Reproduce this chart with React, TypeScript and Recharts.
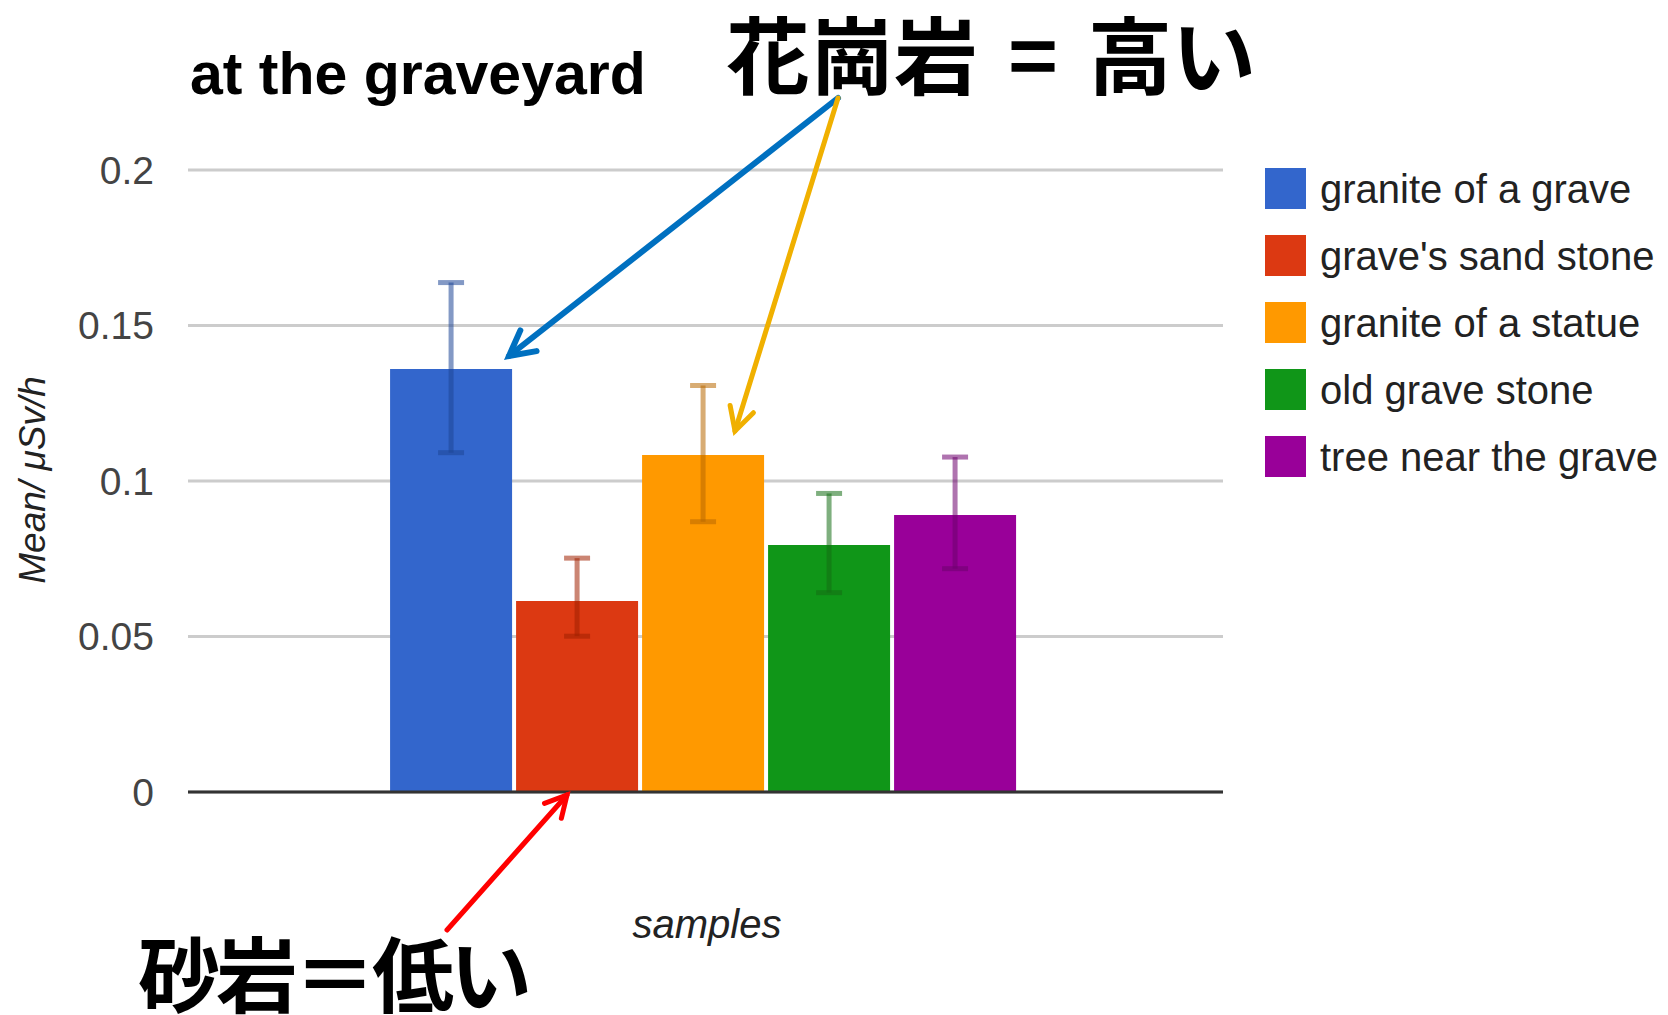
import { BarChart, Bar, XAxis, YAxis, CartesianGrid, ErrorBar, Legend, ReferenceLine } from "recharts";

const categories = ["samples"];
const seriesKeys = ["graniteGrave", "sandStone", "graniteStatue", "oldStone", "tree"];
const seriesNames = ["granite of a grave", "grave's sand stone", "granite of a statue", "old grave stone", "tree near the grave"];
const seriesColors = ["#3366cc", "#dc3912", "#ff9900", "#109618", "#990099"];
const errorColors = ["#1e4696", "#a02000", "#b86800", "#146e14", "#6e006e"];
const meanValues = [0.136, 0.0614, 0.1084, 0.0794, 0.0891];
// [below, above] offsets of the error bars
const errorValues = [
  [0.0269, 0.0278],
  [0.0113, 0.0138],
  [0.0215, 0.0223],
  [0.0153, 0.0166],
  [0.0173, 0.0186],
];
const yTicks = [0, 0.05, 0.1, 0.15, 0.2];

const W = 1668;
const H = 1015;
const FONT = "'Liberation Sans', Arial, sans-serif";
const JP = "'Noto Sans CJK JP', sans-serif";

const data = categories.map((name) => {
  const row: Record<string, unknown> = { name };
  seriesKeys.forEach((k, i) => {
    row[k] = meanValues[i];
    row[k + "Err"] = errorValues[i];
  });
  return row;
});

// keep legend in series order (Recharts sorts it by name otherwise)
// eslint-disable-next-line @typescript-eslint/no-explicit-any
const renderLegend = (props: any) => {
  const items = [...(props.payload || [])].sort(
    (a: any, b: any) => seriesNames.indexOf(a.value) - seriesNames.indexOf(b.value)
  );
  return (
    <div>
      {items.map((p: any) => (
        <div key={p.value} style={{ display: "flex", alignItems: "center", height: 67 }}>
          <span style={{ width: 41, height: 41, background: p.color, marginRight: 14, flex: "none" }} />
          <span style={{ fontFamily: FONT, fontSize: 40, lineHeight: 1, color: "#222", whiteSpace: "nowrap" }}>{p.value}</span>
        </div>
      ))}
    </div>
  );
};

// open arrowhead: shaft from tail to tip plus two barbs
function Arrow({ from, to, color, width, head }: { from: [number, number]; to: [number, number]; color: string; width: number; head: number }) {
  const ang = Math.atan2(from[1] - to[1], from[0] - to[0]);
  const spread = (28 * Math.PI) / 180;
  const b1 = [to[0] + head * Math.cos(ang + spread), to[1] + head * Math.sin(ang + spread)];
  const b2 = [to[0] + head * Math.cos(ang - spread), to[1] + head * Math.sin(ang - spread)];
  return (
    <g stroke={color} strokeWidth={width} strokeLinecap="round" fill="none">
      <line x1={from[0]} y1={from[1]} x2={to[0]} y2={to[1]} />
      <polyline points={`${b1[0]},${b1[1]} ${to[0]},${to[1]} ${b2[0]},${b2[1]}`} strokeLinejoin="miter" />
    </g>
  );
}

export default function App() {
  return (
    <div style={{ position: "absolute", left: 0, top: 0, width: W, height: H, background: "#fff" }}>
      <BarChart
        width={W}
        height={H}
        data={data}
        margin={{ top: 170, right: 445, bottom: 223, left: 0 }}
        barCategoryGap="19.6%"
        barGap={4}
      >
        <CartesianGrid vertical={false} stroke="#cccccc" strokeWidth={3} />
        <XAxis dataKey="name" tick={false} tickLine={false} height={0} axisLine={false} padding={{ left: 0, right: 4 }} />
        <YAxis
          width={188}
          domain={[0, 0.2]}
          ticks={yTicks}
          tickLine={false}
          axisLine={false}
          tickMargin={28}
          tick={{ fill: "#444", fontSize: 39, fontFamily: FONT }}
        />
        <Legend
          layout="vertical"
          align="center"
          verticalAlign="middle"
          content={renderLegend}
          wrapperStyle={{ position: "absolute", left: 1265, top: 155, width: 400, height: "auto" }}
        />
        {seriesKeys.map((k, i) => (
          <Bar key={k} dataKey={k} name={seriesNames[i]} fill={seriesColors[i]} isAnimationActive={false}>
            <ErrorBar
              dataKey={k + "Err"}
              width={13}
              strokeWidth={5}
              stroke={errorColors[i]}
              strokeOpacity={0.55}
              direction="y"
            />
          </Bar>
        ))}
        <ReferenceLine y={0} stroke="#333" strokeWidth={3} ifOverflow="visible" />
      </BarChart>
      <svg width={W} height={H} style={{ position: "absolute", left: 0, top: 0, pointerEvents: "none" }}>
        <text x={190} y={94} fontFamily={FONT} fontWeight="bold" fontSize={59} fill="#000">
          at the graveyard
        </text>
        <text
          x={45}
          y={480}
          transform="rotate(-90 45 480)"
          textAnchor="middle"
          fontFamily={FONT}
          fontStyle="italic"
          fontSize={37}
          fill="#222"
        >
          Mean/ μSv/h
        </text>
        <text x={707} y={938} textAnchor="middle" fontFamily={FONT} fontStyle="italic" fontSize={40} fill="#222">
          samples
        </text>
        <text fontFamily={JP} fontWeight={700} fontSize={84} fill="#000" y={88}>
          <tspan x={726}>花崗岩</tspan>
          <tspan x={1033} textAnchor="middle">=</tspan>
          <tspan x={1088}>高い</tspan>
        </text>
        <text x={138} y={1006} fontFamily={JP} fontWeight={700} fontSize={82} fill="#000" letterSpacing={-4}>
          砂岩＝低い
        </text>
        <Arrow from={[838, 98]} to={[509, 356]} color="#0070c0" width={6} head={28} />
        <Arrow from={[838, 98]} to={[735, 431]} color="#f0b000" width={5} head={26} />
        <Arrow from={[447, 930]} to={[567, 795]} color="#ff0000" width={5} head={24} />
      </svg>
    </div>
  );
}
